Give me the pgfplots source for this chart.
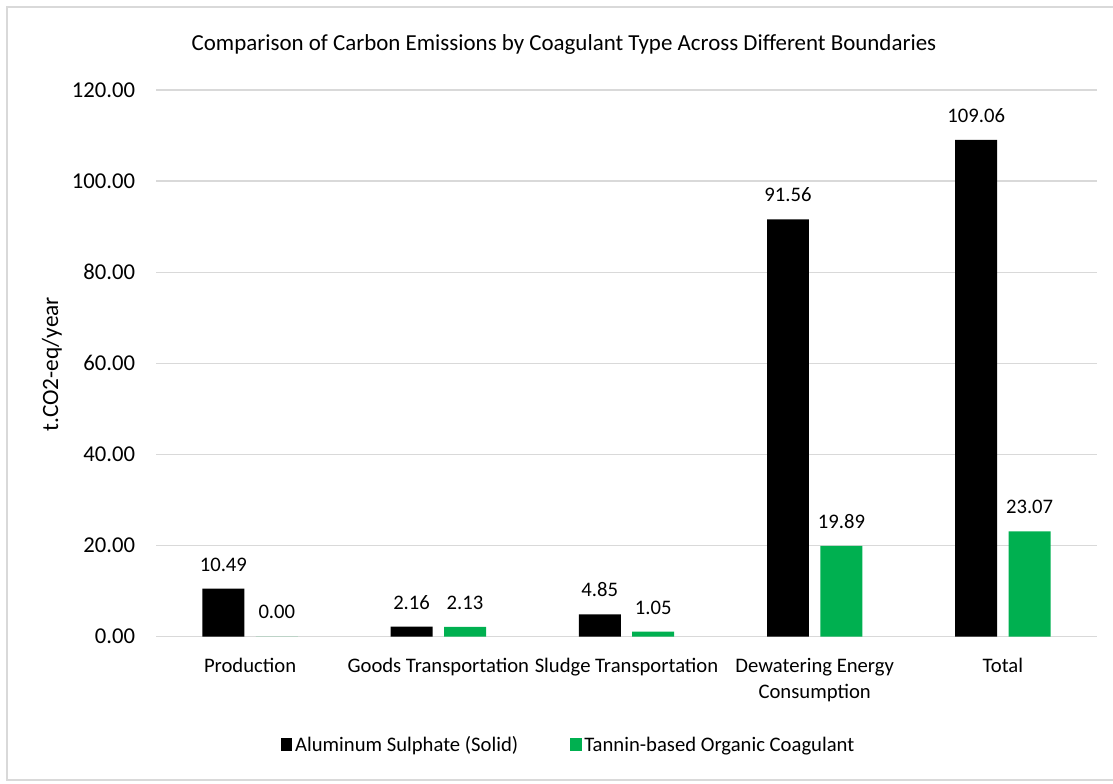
\documentclass[border=0pt]{standalone}
\usepackage{pgfplots}
\pgfplotsset{compat=1.18}
\usepackage{fontspec}
\setmainfont{Carlito}

\definecolor{alumblack}{HTML}{000000}
\definecolor{tanningreen}{HTML}{00B050}
\definecolor{gridgray}{HTML}{D9D9D9}
\definecolor{framegray}{HTML}{D9D9D9}

% 1 px of the reference = 0.75pt
\begin{document}
\begin{tikzpicture}[x=0.75pt, y=0.75pt]
\path[use as bounding box] (0,0) rectangle (1113,783);
\draw[framegray, line width=1.1pt] (1125,776) -- (7,776) -- (7,3) -- (1125,3);

\node[font=\fontsize{17.2}{20}\selectfont, anchor=base] at (564,732) {Comparison of Carbon Emissions by Coagulant Type Across Different Boundaries};
\node[font=\fontsize{17.5}{20}\selectfont, rotate=90] at (52,419) {t.CO2-eq/year};

\begin{axis}[
    at={(117pt,109.875pt)}, anchor=south west,
    scale only axis,
    width=705.75pt, height=409.9pt,
    ybar, bar width=0.223,
    xmin=-0.5, xmax=4.5,
    ymin=0, ymax=120,
    ytick={0,20,...,120},
    yticklabel={\pgfmathprintnumber[fixed,fixed zerofill,precision=2,assume math mode=true]{\tick}},
    yticklabel style={font=\fontsize{17}{20}\selectfont, anchor=east, inner sep=0pt, xshift=-15.5pt},
    xtick=data,
    xticklabels={Production, Goods Transportation, Sludge Transportation, {Dewatering Energy\\Consumption}, Total},
    xticklabel style={font=\fontsize{15.5}{20}\selectfont, align=center, anchor=north, inner sep=0pt, yshift=-16pt},
    major tick length=0pt,
    axis x line*=bottom,
    axis y line*=left,
    x axis line style={gridgray, line width=1pt, -},
    y axis line style={draw=none},
    ymajorgrids,
    grid style={gridgray, line width=0.9pt},
    nodes near coords,
    point meta=y,
    nodes near coords style={font=\fontsize{15.5}{18}\selectfont, anchor=south, inner sep=0pt, yshift=12.9pt,
        /pgf/number format/.cd, fixed, fixed zerofill, precision=2, assume math mode=true},
    legend columns=2,
    legend style={at={(0.439,-0.199)}, anchor=center, draw=none, fill=none,
        font=\fontsize{15.5}{18}\selectfont,
        /tikz/every even column/.append style={column sep=37pt}},
    legend image code/.code={\fill[#1] (0pt,-4.2pt) rectangle (8.5pt,5.3pt);},
]
\addplot[fill=alumblack, draw=none, bar shift=-0.142] coordinates {
    (0,10.49) (1,2.16) (2,4.85) (3,91.56) (4,109.06)
};
\addlegendentry{Aluminum Sulphate (Solid)}
\addplot[fill=tanningreen, draw=none, bar shift=0.142] coordinates {
    (0,0.00) (1,2.13) (2,1.05) (3,19.89) (4,23.07)
};
\addlegendentry{Tannin-based Organic Coagulant}
\end{axis}
\end{tikzpicture}
\end{document}
